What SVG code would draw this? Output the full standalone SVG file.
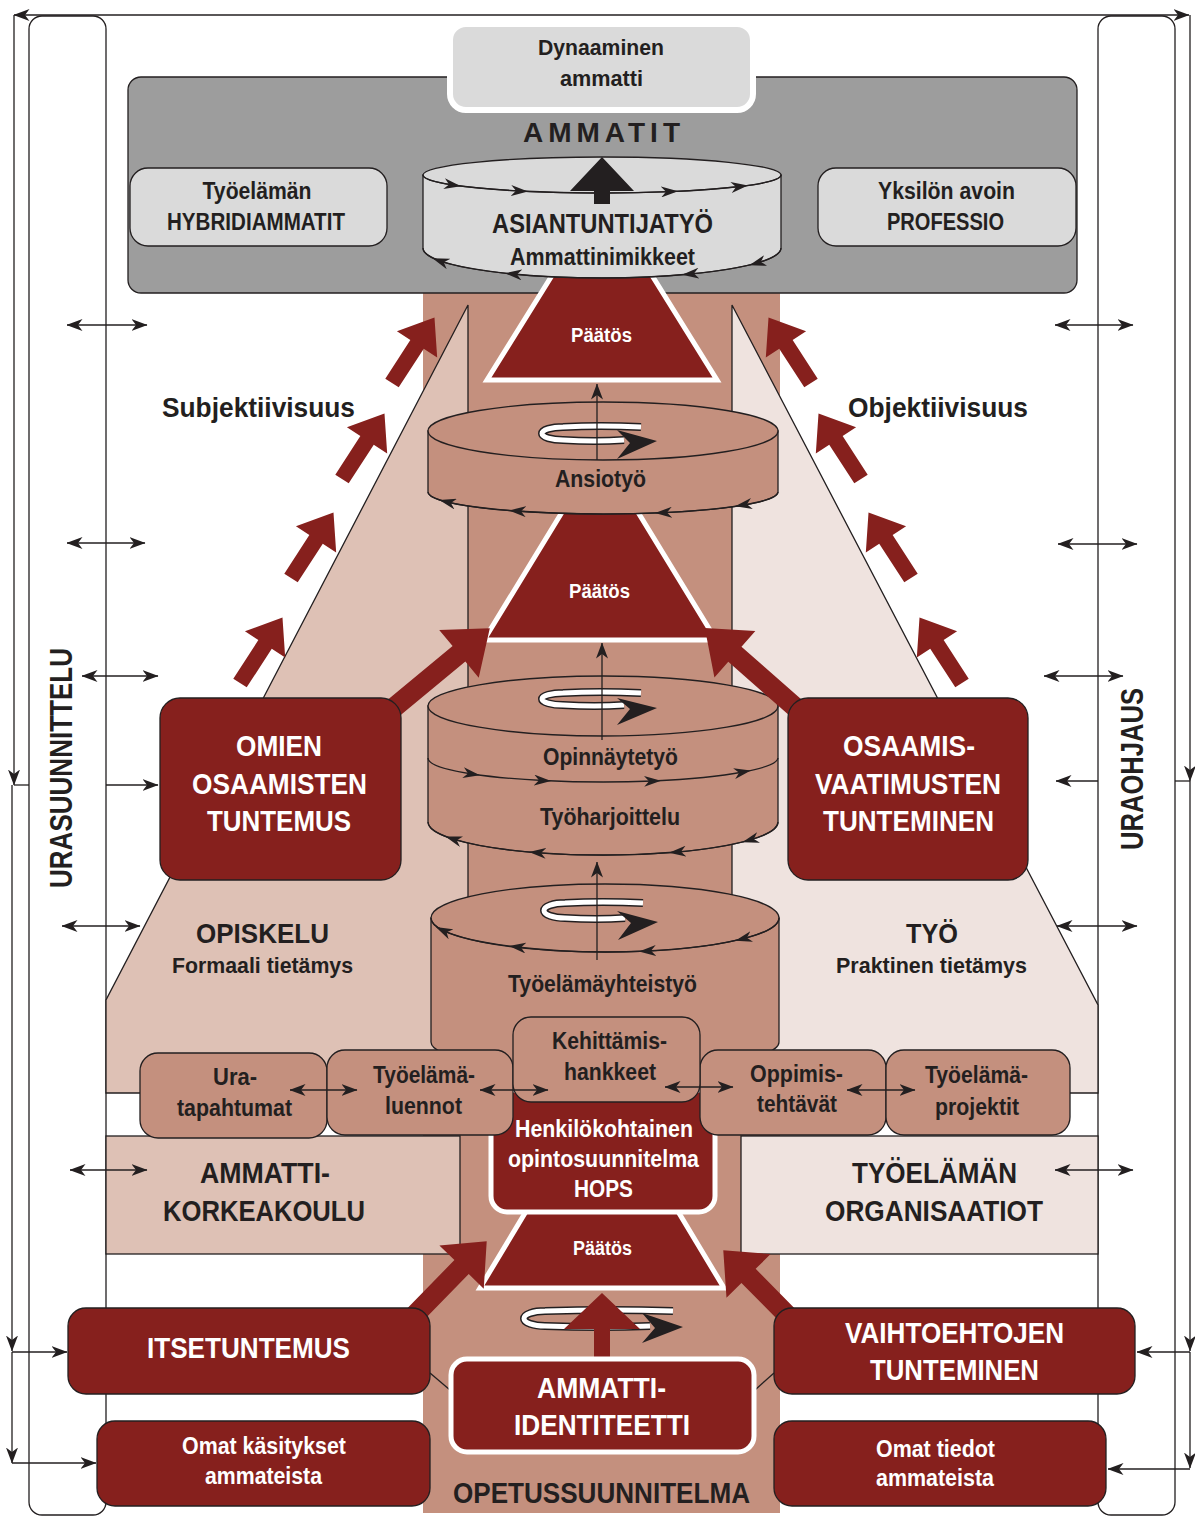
<svg xmlns="http://www.w3.org/2000/svg" width="1195" height="1517" viewBox="0 0 1195 1517">
<defs>
  <style>
    .ln{fill:none;stroke:#231F20;stroke-width:1.3}
    .bx{stroke:#231F20;stroke-width:1.3}
    .red{fill:#86201D}
    .tan{fill:#C4907E}
    .gry{fill:#DADADA}
    .wb{stroke:#FFFFFF;stroke-width:5}
    .t{font-family:'Liberation Sans',Arial,sans-serif;font-weight:700;fill:#231F20;text-anchor:middle}
    .w{fill:#FFFFFF}
    .cb{fill:none;stroke:#231F20;stroke-width:8}
    .cw{fill:none;stroke:#FFFFFF;stroke-width:5}
  </style>
  <marker id="ah" viewBox="0 0 16 12" refX="15.5" refY="6" markerWidth="16" markerHeight="12" markerUnits="userSpaceOnUse" orient="auto-start-reverse">
    <path d="M0,0 L16,6 L0,12 L4.5,6 Z" fill="#231F20"/>
  </marker>
  <marker id="sa" viewBox="0 0 17 11" refX="9" refY="5.5" markerWidth="17" markerHeight="11" markerUnits="userSpaceOnUse" orient="auto">
    <path d="M0,0 L17,5.5 L0,11 L5,5.5 Z" fill="#231F20"/>
  </marker>
</defs>

<rect width="1195" height="1517" fill="#FFFFFF"/>

<!-- side columns -->
<g id="col-left"><rect x="29" y="16" width="77" height="1499" rx="13" fill="#FFFFFF" class="bx"/></g>
<g id="col-right"><rect x="1098" y="16" width="77" height="1499" rx="13" fill="#FFFFFF" class="bx"/></g>

<!-- central curriculum column -->
<rect x="423" y="293" width="357" height="1220" class="tan"/>

<!-- study / work fields -->
<g id="field-study"><polygon points="468,305 468,1093 106,1093 106,1000" fill="#DEC1B5" class="bx"/></g>
<g id="field-work"><polygon points="732,305 732,1093 1098,1093 1098,1005" fill="#EFE3DF" class="bx"/></g>

<g id="amk"><rect x="106" y="1136" width="354" height="118" fill="#DEC1B5" class="bx"/></g>
<g id="organisaatiot"><rect x="741" y="1136" width="357" height="118" fill="#EFE3DF" class="bx"/></g>

<!-- professions panel -->
<g id="ammatit"><rect x="128" y="77" width="949" height="216" rx="13" fill="#9D9D9D" class="bx"/></g>
<g id="dynaaminen"><rect x="450" y="24" width="303" height="86" rx="16" class="gry" stroke="#FFFFFF" stroke-width="6"/></g>
<g id="hybridi"><rect x="130" y="168" width="257" height="78" rx="18" class="gry bx"/></g>
<g id="professio"><rect x="818" y="168" width="258" height="78" rx="18" class="gry bx"/></g>

<!-- decisions -->
<g id="paatos-1"><polygon points="602,195 717,380 487,380" class="red wb"/></g>
<g id="paatos-2"><polygon points="600,450 716,640 484,640" class="red wb"/></g>

<!-- expert work cylinder -->
<g id="asiantuntijatyo">
  <path d="M423,175 V248 A179,30 0 0 0 781,248 V175 Z" class="gry bx"/>
  <ellipse cx="602" cy="175" rx="179" ry="18" class="gry bx"/>
  <path d="M423,175 A179,18 0 0 0 453,185 A179,18 0 0 0 520,191 A179,18 0 0 0 670,191.6 A179,18 0 0 0 740,186.5 A179,18 0 0 0 781,175" class="ln" marker-mid="url(#sa)"/>
  <path d="M781,248 A179,30 0 0 1 757,263 A179,30 0 0 1 690,274 A179,30 0 0 1 513,274 A179,30 0 0 1 440,261 A179,30 0 0 1 423,248" class="ln" marker-mid="url(#sa)"/>
  <polygon points="602,157 634,191 610,191 610,204 594,204 594,191 570,191" fill="#231F20"/>
</g>

<!-- paid work cylinder -->
<g id="ansiotyo">
  <path d="M428,431 V492 A175,22 0 0 0 778,492 V431 Z" class="tan bx"/>
  <ellipse cx="603" cy="431" rx="175" ry="29" class="tan bx"/>
  <path d="M778,492 A175,22 0 0 1 743,505 A175,22 0 0 1 663,512.7 A175,22 0 0 1 517,511 A175,22 0 0 1 447,502 A175,22 0 0 1 428,492" class="ln" marker-mid="url(#sa)"/>
  <path d="M641,427 Q600,425 563,427 A21,6.5 0 0 0 563,440 Q595,442 624,440" class="cb"/>
  <path d="M641,427 Q600,425 563,427 A21,6.5 0 0 0 563,440 Q595,442 624,440" class="cw"/>
  <polygon points="617,430 657,441 617,459 630,443" fill="#231F20"/>
</g>

<!-- thesis / practical training cylinder -->
<g id="opinnaytetyo">
  <path d="M428,706 V822 A175,33 0 0 0 778,822 V706 Z" class="tan bx"/>
  <ellipse cx="603" cy="706" rx="175" ry="30" class="tan bx"/>
  <path d="M428,758 A175,24 0 0 0 472,774 A175,24 0 0 0 543,780.5 A175,24 0 0 0 653,781 A175,24 0 0 0 743,772 A175,24 0 0 0 778,758" class="ln" marker-mid="url(#sa)"/>
  <path d="M778,822 A175,33 0 0 1 750,840 A175,33 0 0 1 677,852 A175,33 0 0 1 537,852.6 A175,33 0 0 1 453,839 A175,33 0 0 1 428,822" class="ln" marker-mid="url(#sa)"/>
  <path d="M641,693 Q600,691 563,693 A21,6 0 0 0 563,705 Q595,707 624,705" class="cb"/>
  <path d="M641,693 Q600,691 563,693 A21,6 0 0 0 563,705 Q595,707 624,705" class="cw"/>
  <polygon points="617,698 657,708 617,725 630,709" fill="#231F20"/>
</g>

<!-- working-life cooperation cylinder -->
<g id="tyoelamayhteistyo">
  <path d="M431,918 V1042 A174,30 0 0 0 779,1042 V918 Z" class="tan bx"/>
  <ellipse cx="605" cy="918" rx="174" ry="34" class="tan bx"/>
  <path d="M779,918 A174,34 0 0 1 743,938.7 A174,34 0 0 1 647,951 A174,34 0 0 1 517,947 A174,34 0 0 1 443,930.4 A174,34 0 0 1 431,918" class="ln" marker-mid="url(#sa)"/>
  <path d="M643,903 Q602,901 565,903 A21,7.5 0 0 0 565,918 Q597,920 625,918" class="cb"/>
  <path d="M643,903 Q602,901 565,903 A21,7.5 0 0 0 565,918 Q597,920 625,918" class="cw"/>
  <polygon points="617,911 658,922 618,940 631,923" fill="#231F20"/>
</g>

<!-- decision under the study plan -->
<g id="paatos-3"><polygon points="602,1085 724,1288 480,1288" class="red wb"/></g>
<g id="hops"><rect x="491" y="1090" width="224" height="122" rx="16" class="red wb"/></g>

<!-- learning activities -->
<g id="uratapahtumat"><rect x="140" y="1053" width="187" height="85" rx="18" class="tan bx"/></g>
<g id="luennot"><rect x="327" y="1050" width="186" height="85" rx="18" class="tan bx"/></g>
<g id="oppimistehtavat"><rect x="700" y="1050" width="186" height="85" rx="18" class="tan bx"/></g>
<g id="projektit"><rect x="886" y="1050" width="184" height="85" rx="18" class="tan bx"/></g>
<g id="kehittamishankkeet"><rect x="513" y="1017" width="187" height="85" rx="18" class="tan bx"/></g>

<!-- rotation symbol and identity arrow -->
<g id="kierto">
  <path d="M673,1311 Q610,1309 545,1311 A21,7.5 0 0 0 545,1326 Q600,1328 650,1326" class="cb"/>
  <path d="M673,1311 Q610,1309 545,1311 A21,7.5 0 0 0 545,1326 Q600,1328 650,1326" class="cw"/>
  <polygon points="602,1293 640,1329 610,1329 610,1362 594,1362 594,1329 564,1329" class="red"/>
  <polygon points="642,1313 683,1327 642,1343 655,1328" fill="#231F20"/>
</g>

<!-- connectors -->
<g id="connectors">
  <!-- vertical flow through the column -->
  <path d="M597,460 V384" class="ln" marker-end="url(#ah)"/>
  <path d="M602,740 V643" class="ln" marker-end="url(#ah)"/>
  <path d="M597,960 V862" class="ln" marker-end="url(#ah)"/>

  <!-- links between learning activities -->
  <path d="M290,1090 H357" class="ln" marker-start="url(#ah)" marker-end="url(#ah)"/>
  <path d="M480,1090 H548" class="ln" marker-start="url(#ah)" marker-end="url(#ah)"/>
  <path d="M665,1087 H733" class="ln" marker-start="url(#ah)" marker-end="url(#ah)"/>
  <path d="M847,1090 H915" class="ln" marker-start="url(#ah)" marker-end="url(#ah)"/>

  <!-- subjectivity arrows -->
  <g class="red">
    <polygon points="0,-8 46,-8 46,-24 78,0 46,24 46,8 0,8" transform="translate(240,683) rotate(-57)"/>
    <polygon points="0,-8 46,-8 46,-24 78,0 46,24 46,8 0,8" transform="translate(291,578) rotate(-57)"/>
    <polygon points="0,-8 46,-8 46,-24 78,0 46,24 46,8 0,8" transform="translate(342,479) rotate(-57)"/>
    <polygon points="0,-8 46,-8 46,-24 78,0 46,24 46,8 0,8" transform="translate(392,383) rotate(-57)"/>
    <!-- objectivity arrows -->
    <polygon points="0,-8 46,-8 46,-24 78,0 46,24 46,8 0,8" transform="translate(962,683) rotate(-123)"/>
    <polygon points="0,-8 46,-8 46,-24 78,0 46,24 46,8 0,8" transform="translate(911,578) rotate(-123)"/>
    <polygon points="0,-8 46,-8 46,-24 78,0 46,24 46,8 0,8" transform="translate(861,479) rotate(-123)"/>
    <polygon points="0,-8 46,-8 46,-24 78,0 46,24 46,8 0,8" transform="translate(811,383) rotate(-123)"/>
    <!-- knowledge to decisions -->
    <polygon points="0,-10 96,-10 96,-31 136,0 96,31 96,10 0,10" transform="translate(385,715) rotate(-39.6)"/>
    <polygon points="0,-10 92,-10 92,-31 132,0 92,31 92,10 0,10" transform="translate(804,715) rotate(-138.7)"/>
    <polygon points="0,-10 81,-10 81,-31 117,0 81,31 81,10 0,10" transform="translate(405,1325) rotate(-45.7)"/>
    <polygon points="0,-10 69,-10 69,-31 105,0 69,31 69,10 0,10" transform="translate(797,1325) rotate(-134.6)"/>
  </g>

  <path d="M430,1373 L450,1390" class="ln"/>
  <path d="M755,1390 L774,1373" class="ln"/>

  <!-- career planning (left) -->
  <path d="M14,15 H1189" class="ln" marker-start="url(#ah)" marker-end="url(#ah)"/>
  <path d="M14,15 V785" class="ln" marker-end="url(#ah)"/>
  <path d="M14,785 H29" class="ln"/>
  <path d="M106,785 H158" class="ln" marker-end="url(#ah)"/>
  <path d="M12,785 V1351" class="ln" marker-end="url(#ah)"/>
  <path d="M12,1352 H67" class="ln" marker-end="url(#ah)"/>
  <path d="M12,1352 V1463" class="ln" marker-end="url(#ah)"/>
  <path d="M12,1463 H96" class="ln" marker-end="url(#ah)"/>

  <!-- career guidance (right) -->
  <path d="M1190,15 V781" class="ln" marker-end="url(#ah)"/>
  <path d="M1190,781 H1175" class="ln"/>
  <path d="M1098,781 H1056" class="ln" marker-end="url(#ah)"/>
  <path d="M1190,781 V1351" class="ln" marker-end="url(#ah)"/>
  <path d="M1190,1352 H1137" class="ln" marker-end="url(#ah)"/>
  <path d="M1190,1352 V1468" class="ln" marker-end="url(#ah)"/>
  <path d="M1190,1469 H1108" class="ln" marker-end="url(#ah)"/>

  <!-- two-way exchange -->
  <path d="M67,325 H147" class="ln" marker-start="url(#ah)" marker-end="url(#ah)"/>
  <path d="M67,543 H145" class="ln" marker-start="url(#ah)" marker-end="url(#ah)"/>
  <path d="M82,676 H158" class="ln" marker-start="url(#ah)" marker-end="url(#ah)"/>
  <path d="M62,926 H140" class="ln" marker-start="url(#ah)" marker-end="url(#ah)"/>
  <path d="M70,1170 H147" class="ln" marker-start="url(#ah)" marker-end="url(#ah)"/>
  <path d="M1055,325 H1133" class="ln" marker-start="url(#ah)" marker-end="url(#ah)"/>
  <path d="M1058,544 H1137" class="ln" marker-start="url(#ah)" marker-end="url(#ah)"/>
  <path d="M1044,676 H1123" class="ln" marker-start="url(#ah)" marker-end="url(#ah)"/>
  <path d="M1057,926 H1137" class="ln" marker-start="url(#ah)" marker-end="url(#ah)"/>
  <path d="M1055,1170 H1133" class="ln" marker-start="url(#ah)" marker-end="url(#ah)"/>
</g>

<!-- knowledge boxes -->
<g id="omien-osaamisten"><rect x="160" y="698" width="241" height="182" rx="20" class="red bx"/></g>
<g id="osaamisvaatimusten"><rect x="788" y="698" width="240" height="182" rx="20" class="red bx"/></g>
<g id="itsetuntemus"><rect x="68" y="1308" width="362" height="86" rx="18" class="red bx"/></g>
<g id="vaihtoehtojen"><rect x="774" y="1308" width="361" height="86" rx="18" class="red bx"/></g>
<g id="omat-kasitykset"><rect x="97" y="1421" width="333" height="85" rx="18" class="red bx"/></g>
<g id="omat-tiedot"><rect x="774" y="1421" width="332" height="85" rx="18" class="red bx"/></g>
<g id="ammatti-identiteetti"><rect x="451" y="1359" width="303" height="93" rx="16" class="red wb"/></g>

<!-- labels -->
<g class="t">
  <text x="601" y="55" font-size="22" textLength="126" lengthAdjust="spacingAndGlyphs">Dynaaminen</text>
  <text x="601.5" y="86" font-size="22" textLength="83" lengthAdjust="spacingAndGlyphs">ammatti</text>
  <text x="601.5" y="142" font-size="28" textLength="157" lengthAdjust="spacing">AMMATIT</text>
  <text x="257" y="199" font-size="23" textLength="109" lengthAdjust="spacingAndGlyphs">Työelämän</text>
  <text x="256" y="230" font-size="23" textLength="178" lengthAdjust="spacingAndGlyphs">HYBRIDIAMMATIT</text>
  <text x="946.5" y="199" font-size="23" textLength="137" lengthAdjust="spacingAndGlyphs">Yksilön avoin</text>
  <text x="945.5" y="230" font-size="23" textLength="117" lengthAdjust="spacingAndGlyphs">PROFESSIO</text>
  <text x="602.5" y="233" font-size="28" textLength="221" lengthAdjust="spacingAndGlyphs">ASIANTUNTIJATYÖ</text>
  <text x="602.5" y="265" font-size="23" textLength="185" lengthAdjust="spacingAndGlyphs">Ammattinimikkeet</text>
  <text x="258.5" y="417" font-size="28" textLength="193" lengthAdjust="spacingAndGlyphs">Subjektiivisuus</text>
  <text x="938" y="417" font-size="28" textLength="180" lengthAdjust="spacingAndGlyphs">Objektiivisuus</text>
  <text x="600.5" y="487" font-size="24" textLength="91" lengthAdjust="spacingAndGlyphs">Ansiotyö</text>
  <text x="610.5" y="765" font-size="24" textLength="135" lengthAdjust="spacingAndGlyphs">Opinnäytetyö</text>
  <text x="610" y="825" font-size="24" textLength="140" lengthAdjust="spacingAndGlyphs">Työharjoittelu</text>
  <text x="262.5" y="943" font-size="28" textLength="133" lengthAdjust="spacingAndGlyphs">OPISKELU</text>
  <text x="262.5" y="973" font-size="22" textLength="181" lengthAdjust="spacingAndGlyphs">Formaali tietämys</text>
  <text x="932" y="943" font-size="28" textLength="52" lengthAdjust="spacingAndGlyphs">TYÖ</text>
  <text x="931.5" y="973" font-size="22" textLength="191" lengthAdjust="spacingAndGlyphs">Praktinen tietämys</text>
  <text x="602.5" y="992" font-size="24" textLength="189" lengthAdjust="spacingAndGlyphs">Työelämäyhteistyö</text>
  <text x="609.5" y="1049" font-size="23" textLength="115" lengthAdjust="spacingAndGlyphs">Kehittämis-</text>
  <text x="610" y="1080" font-size="23" textLength="92" lengthAdjust="spacingAndGlyphs">hankkeet</text>
  <text x="235" y="1085" font-size="23" textLength="44" lengthAdjust="spacingAndGlyphs">Ura-</text>
  <text x="234.5" y="1116" font-size="23" textLength="115" lengthAdjust="spacingAndGlyphs">tapahtumat</text>
  <text x="424" y="1083" font-size="23" textLength="102" lengthAdjust="spacingAndGlyphs">Työelämä-</text>
  <text x="423.5" y="1114" font-size="23" textLength="77" lengthAdjust="spacingAndGlyphs">luennot</text>
  <text x="796.5" y="1082" font-size="23" textLength="93" lengthAdjust="spacingAndGlyphs">Oppimis-</text>
  <text x="797" y="1112" font-size="23" textLength="80" lengthAdjust="spacingAndGlyphs">tehtävät</text>
  <text x="976.5" y="1083" font-size="23" textLength="103" lengthAdjust="spacingAndGlyphs">Työelämä-</text>
  <text x="977" y="1115" font-size="23" textLength="84" lengthAdjust="spacingAndGlyphs">projektit</text>
  <text x="265" y="1183" font-size="29" textLength="130" lengthAdjust="spacingAndGlyphs">AMMATTI-</text>
  <text x="264" y="1221" font-size="29" textLength="202" lengthAdjust="spacingAndGlyphs">KORKEAKOULU</text>
  <text x="934.5" y="1183" font-size="29" textLength="165" lengthAdjust="spacingAndGlyphs">TYÖELÄMÄN</text>
  <text x="934" y="1221" font-size="29" textLength="218" lengthAdjust="spacingAndGlyphs">ORGANISAATIOT</text>
  <text x="601.5" y="1503" font-size="29" textLength="297" lengthAdjust="spacingAndGlyphs">OPETUSSUUNNITELMA</text>
  <text transform="translate(72,768) rotate(-90)" font-size="31" textLength="240" lengthAdjust="spacingAndGlyphs">URASUUNNITTELU</text>
  <text transform="translate(1143,769) rotate(-90)" font-size="31" textLength="162" lengthAdjust="spacingAndGlyphs">URAOHJAUS</text>
</g>
<g class="t w">
  <text x="601.5" y="342" font-size="20" textLength="61" lengthAdjust="spacingAndGlyphs">Päätös</text>
  <text x="599.5" y="598" font-size="20" textLength="61" lengthAdjust="spacingAndGlyphs">Päätös</text>
  <text x="602.5" y="1255" font-size="20" textLength="59" lengthAdjust="spacingAndGlyphs">Päätös</text>
  <text x="279" y="756" font-size="30" textLength="86" lengthAdjust="spacingAndGlyphs">OMIEN</text>
  <text x="279.5" y="794" font-size="30" textLength="175" lengthAdjust="spacingAndGlyphs">OSAAMISTEN</text>
  <text x="279" y="831" font-size="30" textLength="144" lengthAdjust="spacingAndGlyphs">TUNTEMUS</text>
  <text x="909" y="756" font-size="30" textLength="132" lengthAdjust="spacingAndGlyphs">OSAAMIS-</text>
  <text x="908" y="794" font-size="30" textLength="186" lengthAdjust="spacingAndGlyphs">VAATIMUSTEN</text>
  <text x="908.5" y="831" font-size="30" textLength="171" lengthAdjust="spacingAndGlyphs">TUNTEMINEN</text>
  <text x="604" y="1137" font-size="23" textLength="178" lengthAdjust="spacingAndGlyphs">Henkilökohtainen</text>
  <text x="603.5" y="1167" font-size="23" textLength="191" lengthAdjust="spacingAndGlyphs">opintosuunnitelma</text>
  <text x="603.5" y="1197" font-size="23" textLength="59" lengthAdjust="spacingAndGlyphs">HOPS</text>
  <text x="248.5" y="1358" font-size="29" textLength="203" lengthAdjust="spacingAndGlyphs">ITSETUNTEMUS</text>
  <text x="601.5" y="1398" font-size="29" textLength="129" lengthAdjust="spacingAndGlyphs">AMMATTI-</text>
  <text x="602" y="1435" font-size="29" textLength="176" lengthAdjust="spacingAndGlyphs">IDENTITEETTI</text>
  <text x="954.5" y="1343" font-size="29" textLength="219" lengthAdjust="spacingAndGlyphs">VAIHTOEHTOJEN</text>
  <text x="954.5" y="1380" font-size="29" textLength="169" lengthAdjust="spacingAndGlyphs">TUNTEMINEN</text>
  <text x="264" y="1454" font-size="23" textLength="164" lengthAdjust="spacingAndGlyphs">Omat käsitykset</text>
  <text x="263.5" y="1484" font-size="23" textLength="117" lengthAdjust="spacingAndGlyphs">ammateista</text>
  <text x="935.5" y="1457" font-size="23" textLength="119" lengthAdjust="spacingAndGlyphs">Omat tiedot</text>
  <text x="935" y="1486" font-size="23" textLength="118" lengthAdjust="spacingAndGlyphs">ammateista</text>
</g>
</svg>
